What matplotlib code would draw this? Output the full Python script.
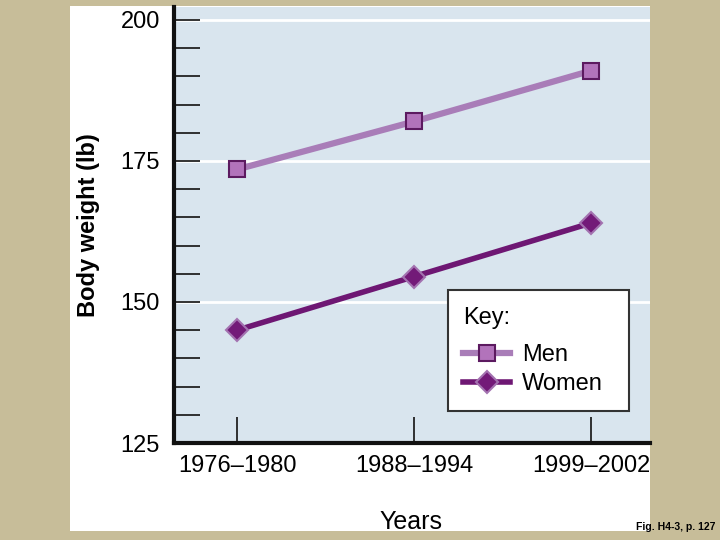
import matplotlib.pyplot as plt
import matplotlib as mpl
from matplotlib.patches import Rectangle
from matplotlib.lines import Line2D
import numpy as np

mpl.rcParams['font.family'] = ['Liberation Sans', 'DejaVu Sans']

# ---------- Data ----------
periods = ['1976\u20131980', '1988\u20131994', '1999\u20132002']
men = [173.5, 182.0, 191.0]
women = [145.0, 154.5, 164.0]
major_yticks = [125, 150, 175, 200]
minor_yticks = [130, 135, 140, 145, 155, 160, 165, 170, 180, 185, 190, 195]

MEN_LINE = '#a97db8'
MEN_FACE = '#b273bb'
MEN_EDGE = '#5c1a60'
WOMEN_LINE = '#6e1773'
WOMEN_FACE = '#731a78'
WOMEN_EDGE = '#a372b0'

W, H = 720, 540
fig = plt.figure(figsize=(7.2, 5.4), dpi=100)
fig.patch.set_facecolor('#c7bd99')

# white panel behind everything
fig.patches.append(Rectangle((70 / W, 1 - 531 / H), 580 / W, 525 / H,
                             transform=fig.transFigure, facecolor='white',
                             edgecolor='none', zorder=-5))

ax = fig.add_axes([174 / W, 1 - 443 / H, 476 / W, 436 / H])
ax.set_facecolor('#d9e5ee')

x = np.arange(len(periods))

for yv in major_yticks[1:]:
    ax.axhline(yv, color='white', linewidth=2, zorder=1)

ax.plot(x, men, color=MEN_LINE, linewidth=4.5, marker='s', markersize=12,
        markerfacecolor=MEN_FACE, markeredgecolor=MEN_EDGE, markeredgewidth=1.5,
        zorder=3)
ax.plot(x, women, color=WOMEN_LINE, linewidth=4, marker='D', markersize=11,
        markerfacecolor=WOMEN_FACE, markeredgecolor=WOMEN_EDGE, markeredgewidth=1.5,
        zorder=3)

ax.set_xlim(-0.356, 2.333)
ax.set_ylim(125, 202.3)

ax.set_xticks(x)
ax.set_xticklabels(periods)
ax.set_yticks(major_yticks)
ax.set_yticks(minor_yticks, minor=True)

ax.tick_params(axis='y', which='both', direction='in', length=19, width=1.3,
               color='#222222', labelsize=17, pad=10)
ax.tick_params(axis='x', which='major', direction='in', length=19, width=1.3,
               color='#222222', labelsize=17, pad=9)

for s in ['top', 'right']:
    ax.spines[s].set_visible(False)
for s in ['left', 'bottom']:
    ax.spines[s].set_linewidth(3)
    ax.spines[s].set_color('#111111')

ax.set_ylabel('Body weight (lb)', fontsize=17, fontweight='bold')
ax.yaxis.set_label_coords(-0.155, 0.5)
fig.text(411 / W, 1 - 522 / H, 'Years', fontsize=18, ha='center', va='center')
fig.text(716 / W, 1 - 527 / H, 'Fig. H4-3, p. 127', fontsize=7.5,
         fontweight='bold', ha='right', va='center', fontstretch='condensed')

# key box
fig.patches.append(Rectangle((448 / W, 1 - 411 / H), 181 / W, 121 / H,
                             transform=fig.transFigure, facecolor='white',
                             edgecolor='#333333', linewidth=1.5, zorder=4))

handles = [
    Line2D([0], [0], color=MEN_LINE, linewidth=4.5, marker='s', markersize=12,
           markerfacecolor=MEN_FACE, markeredgecolor=MEN_EDGE, markeredgewidth=1.5),
    Line2D([0], [0], color=WOMEN_LINE, linewidth=4, marker='D', markersize=11,
           markerfacecolor=WOMEN_FACE, markeredgecolor=WOMEN_EDGE, markeredgewidth=1.5),
]
leg = fig.legend(handles, ['Men', 'Women'], title='Key:', loc='upper left',
                 bbox_to_anchor=(463 / W, 1 - 307 / H),
                 fontsize=17, title_fontsize=17, frameon=False,
                 handlelength=2.0, handletextpad=0.5, labelspacing=0.3,
                 borderpad=0, borderaxespad=0)
leg._legend_box.align = 'left'
leg._legend_box.sep = 11
leg.set_zorder(5)

fig.savefig('out.png', dpi=100, facecolor=fig.get_facecolor())
